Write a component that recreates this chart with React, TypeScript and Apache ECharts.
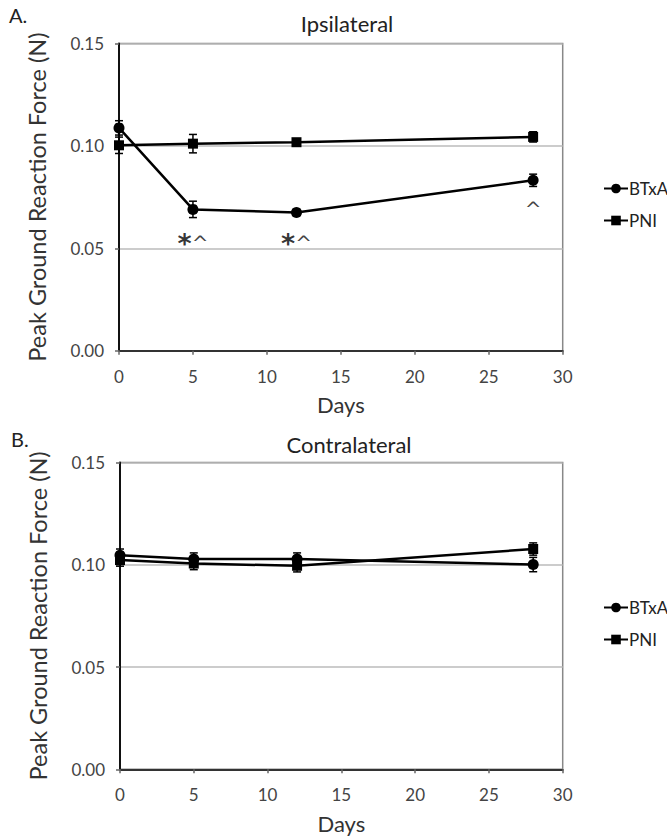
import React, { useEffect, useRef } from "react";
import * as echarts from "echarts";

const days = [0, 5, 12, 28];
const ipsiBTxA = [0.1088, 0.069, 0.0675, 0.0832];
const ipsiBTxAErr = [0.0035, 0.004, 0.0015, 0.003];
const ipsiPNI = [0.1003, 0.1011, 0.1018, 0.1044];
const ipsiPNIErr = [0.004, 0.0045, 0.0015, 0.0025];
const contraBTxA = [0.1047, 0.1028, 0.1028, 0.1001];
const contraBTxAErr = [0.003, 0.003, 0.003, 0.0035];
const contraPNI = [0.1023, 0.1006, 0.0995, 0.1077];
const contraPNIErr = [0.003, 0.003, 0.003, 0.003];
const ipsiMarks = [
  [5, 0.0557, "*^"],
  [12, 0.0557, "*^"],
  [28, 0.0723, "^"],
];
const xTicks = [0, 30, 5];
const yTicks = [0, 0.15, 0.05];
const seriesNames = ["BTxA", "PNI"];
const panelTitles = ["Ipsilateral", "Contralateral"];
const panelLetters = ["A.", "B."];
const yName = "Peak Ground Reaction Force (N)";
const xName = "Days";

const FONT = "Lato, 'Open Sans', sans-serif";
const SYMF = "'DejaVu Sans', sans-serif";

function errRender(params: any, api: any) {
  const x = api.value(0);
  const y = api.value(1);
  const e = api.value(2);
  const top = api.coord([x, y + e]);
  const bot = api.coord([x, y - e]);
  const hw = 4;
  const style = { stroke: "#000", lineWidth: 1.5 };
  return {
    type: "group",
    children: [
      { type: "line", shape: { x1: top[0], y1: top[1], x2: bot[0], y2: bot[1] }, style },
      { type: "line", shape: { x1: top[0] - hw, y1: top[1], x2: top[0] + hw, y2: top[1] }, style },
      { type: "line", shape: { x1: bot[0] - hw, y1: bot[1], x2: bot[0] + hw, y2: bot[1] }, style },
    ],
  };
}

export default function App() {
  const ref = useRef<HTMLDivElement>(null);
  useEffect(() => {
    if (!ref.current) return;
    const chart = echarts.init(ref.current, null, { renderer: "svg" });
    const grids = [
      { left: 119, top: 43.5, width: 443.7, height: 307.2 },
      { left: 120, top: 462.5, width: 442.7, height: 306.8 },
    ];
    const mkX = (i: number) => ({
      type: "value",
      gridIndex: i,
      min: xTicks[0],
      max: xTicks[1],
      interval: xTicks[2],
      name: xName,
      nameLocation: "middle",
      nameGap: 43,
      nameTextStyle: { fontFamily: FONT, fontSize: 22, color: "#333" },
      axisLine: { show: true, lineStyle: { color: "#333", width: 2 } },
      axisTick: { show: true, length: 4, lineStyle: { color: "#666", width: 1.5 } },
      axisLabel: { margin: 17, fontFamily: FONT, fontSize: 17, color: "#444" },
      splitLine: { show: false },
    });
    const mkY = (i: number) => ({
      type: "value",
      gridIndex: i,
      min: yTicks[0],
      max: yTicks[1],
      interval: yTicks[2],
      name: yName,
      nameLocation: "middle",
      nameGap: 70,
      nameTextStyle: { fontFamily: FONT, fontSize: 23.5, color: "#333" },
      axisLine: { show: true, lineStyle: { color: "#111", width: 2 } },
      axisTick: { show: true, length: 4, lineStyle: { color: "#666", width: 1.5 } },
      axisLabel: {
        margin: 15,
        fontFamily: FONT,
        fontSize: 17,
        color: "#444",
        formatter: (v: number) => v.toFixed(2),
      },
      splitLine: { show: true, lineStyle: { color: "#bbb", width: 1.5 } },
    });
    const lineSeries = (name: string, data: number[], gi: number, symbol: string, size: number) => ({
      type: "line",
      name,
      xAxisIndex: gi,
      yAxisIndex: gi,
      data: days.map((d, k) => [d, data[k]]),
      symbol,
      symbolSize: size,
      lineStyle: { color: "#000", width: 2.5 },
      itemStyle: { color: "#000" },
      z: 5,
    });
    const errSeries = (vals: number[], errs: number[], gi: number) => ({
      type: "custom",
      xAxisIndex: gi,
      yAxisIndex: gi,
      renderItem: errRender,
      data: days.map((d, k) => [d, vals[k], errs[k]]),
      z: 4,
      silent: true,
    });
    const legend = (top: number) => ({
      orient: "vertical",
      left: 598,
      top,
      itemWidth: 24,
      itemHeight: 12,
      itemGap: 15,
      data: seriesNames,
      textStyle: { fontFamily: FONT, fontSize: 17, color: "#222", padding: [0, 0, 0, -4] },
    });
    chart.setOption({
      animation: false,
      backgroundColor: "#fff",
      grid: grids.map((g) => ({ ...g, show: true, borderColor: "#888", borderWidth: 1.5, backgroundColor: "transparent" })),
      title: [
        { text: panelTitles[0], left: 342, top: 7, textAlign: "center", textStyle: { fontFamily: FONT, fontSize: 22, fontWeight: "normal", color: "#222" } },
        { text: panelTitles[1], left: 344, top: 428, textAlign: "center", textStyle: { fontFamily: FONT, fontSize: 22, fontWeight: "normal", color: "#222" } },
        { text: panelLetters[0], left: 4, top: 0, textStyle: { fontFamily: FONT, fontSize: 20, fontWeight: "normal", color: "#222" } },
        { text: panelLetters[1], left: 6, top: 424, textStyle: { fontFamily: FONT, fontSize: 20, fontWeight: "normal", color: "#222" } },
      ],
      legend: [legend(175), legend(594)],
      xAxis: [mkX(0), mkX(1)],
      yAxis: [mkY(0), mkY(1)],
      series: [
        errSeries(ipsiBTxA, ipsiBTxAErr, 0),
        errSeries(ipsiPNI, ipsiPNIErr, 0),
        lineSeries(seriesNames[0], ipsiBTxA, 0, "circle", 11),
        lineSeries(seriesNames[1], ipsiPNI, 0, "rect", 10),
        errSeries(contraBTxA, contraBTxAErr, 1),
        errSeries(contraPNI, contraPNIErr, 1),
        lineSeries(seriesNames[0], contraBTxA, 1, "circle", 11),
        lineSeries(seriesNames[1], contraPNI, 1, "rect", 10),
        {
          type: "scatter",
          xAxisIndex: 0,
          yAxisIndex: 0,
          symbolSize: 0,
          silent: true,
          data: ipsiMarks,
          label: {
            show: true,
            position: "inside",
            formatter: (p: any) => {
              const s = String(p.value[2]);
              return s
                .split("")
                .map((c) => (c === "*" ? "{s|*}" : "{c|" + c + "}"))
                .join("");
            },
            rich: {
              s: { fontFamily: SYMF, fontSize: 27, fontWeight: "bold", color: "#000", padding: [14, 0, 0, 0] },
              c: { fontFamily: SYMF, fontSize: 20, color: "#111", padding: [12, 0, 0, 0] },
            },
          },
        },
      ],
    });
    return () => chart.dispose();
  }, []);
  return (
    <div
      ref={ref}
      style={{ position: "absolute", left: 0, top: 0, width: 667, height: 836, background: "#fff" }}
    />
  );
}
